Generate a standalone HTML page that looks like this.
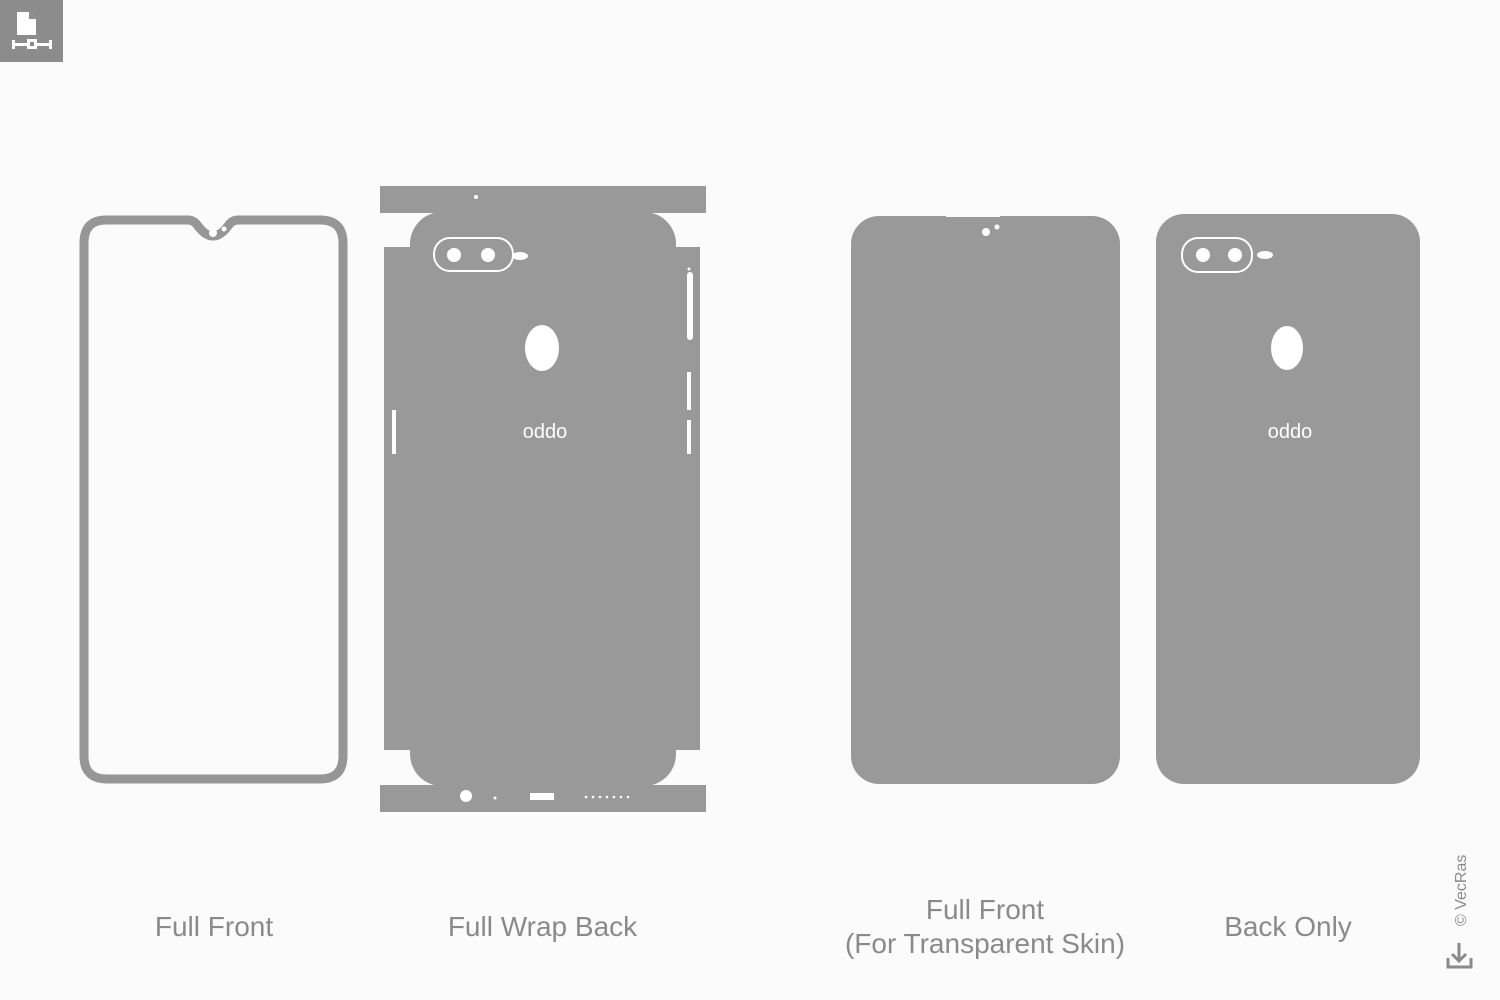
<!DOCTYPE html>
<html><head><meta charset="utf-8"><style>
html,body{margin:0;padding:0;background:#fbfbfb;}
body{width:1500px;height:1000px;overflow:hidden;position:relative;font-family:"Liberation Sans",sans-serif;}
.lbl{position:absolute;color:#8a8a8a;font-size:28px;text-align:center;line-height:34px;}
</style></head><body>
<svg width="1500" height="1000" style="position:absolute;left:0;top:0">
<rect x="0" y="0" width="63" height="62" fill="#8c8c8c"/>
<path d="M17 12 h12 l7 7 v16 h-19z" fill="#fff"/>
<path d="M29 12 v7 h7" fill="#8c8c8c"/>
<rect x="12" y="43" width="40" height="3" fill="#fff"/>
<rect x="27" y="39" width="10" height="10" fill="#fff"/><rect x="30" y="42" width="4" height="4" fill="#8c8c8c"/>
<rect x="12" y="40" width="3" height="9" fill="#fff"/><rect x="49" y="40" width="3" height="9" fill="#fff"/>

<!-- Full Front outline -->
<path d="M106 220 H188 Q194 220 198 226 Q213 246 228 226 Q232 220 238 220 H320 Q343 220 343 243 V756 Q343 779 320 779 H107 Q84 779 84 756 V243 Q84 220 106 220Z" fill="none" stroke="#969696" stroke-width="9"/>
<circle cx="213" cy="233" r="4" fill="#fff"/><circle cx="224" cy="229" r="2.5" fill="#fff"/>

<!-- Full Wrap Back -->
<g fill="#999">
<rect x="380" y="186" width="326" height="27"/>
<rect x="380" y="785" width="326" height="27"/>
<rect x="410" y="212" width="266" height="574" rx="32"/>
<rect x="384" y="247" width="316" height="503"/>
</g>
<circle cx="476" cy="197" r="2" fill="#fff"/>
<rect x="434" y="238" width="79" height="33" rx="16" fill="none" stroke="#fff" stroke-width="2"/>
<circle cx="454" cy="255" r="7" fill="#fff"/><circle cx="488" cy="255" r="7" fill="#fff"/>
<ellipse cx="520" cy="256" rx="8" ry="4" fill="#fff"/>
<ellipse cx="542" cy="348" rx="17" ry="23" fill="#fff"/>
<text x="545" y="441" font-size="20" fill="#fff" text-anchor="middle" transform="rotate(180 545 434)" font-family="Liberation Sans">oppo</text>
<rect x="687" y="272" width="6" height="68" rx="3" fill="#fff"/>
<circle cx="689" cy="269" r="1.5" fill="#fff"/>
<rect x="687" y="372" width="4" height="38" fill="#fff"/>
<rect x="687" y="420" width="4" height="34" fill="#fff"/>
<rect x="392" y="410" width="4" height="44" fill="#fff"/>
<circle cx="466" cy="796" r="6" fill="#fff"/>
<circle cx="495" cy="798" r="1.5" fill="#fff"/>
<rect x="530" y="793" width="24" height="7" fill="#fff"/>
<g fill="#fff"><circle cx="586" cy="797" r="1.3"/><circle cx="593" cy="797" r="1.3"/><circle cx="600" cy="797" r="1.3"/><circle cx="607" cy="797" r="1.3"/><circle cx="614" cy="797" r="1.3"/><circle cx="621" cy="797" r="1.3"/><circle cx="628" cy="797" r="1.3"/></g>

<!-- Full Front transparent -->
<rect x="851" y="216" width="269" height="568" rx="28" fill="#999"/>
<rect x="946" y="214" width="54" height="3" fill="#fbfbfb"/>
<circle cx="986" cy="232" r="4" fill="#fff"/><circle cx="997" cy="227" r="2.5" fill="#fff"/>

<!-- Back Only -->
<rect x="1156" y="214" width="264" height="570" rx="28" fill="#999"/>
<rect x="1182" y="238" width="70" height="34" rx="16" fill="none" stroke="#fff" stroke-width="2"/>
<circle cx="1203" cy="255" r="7" fill="#fff"/><circle cx="1235" cy="255" r="7" fill="#fff"/>
<ellipse cx="1265" cy="255" rx="8" ry="4" fill="#fff"/>
<ellipse cx="1287" cy="348" rx="16" ry="22" fill="#fff"/>
<text x="1290" y="441" font-size="20" fill="#fff" text-anchor="middle" transform="rotate(180 1290 434)" font-family="Liberation Sans">oppo</text>

<text x="1466" y="926" font-size="16" fill="#8a8a8a" transform="rotate(-90 1466 926)" font-family="Liberation Sans">© VecRas</text>
<path d="M1459 943 V961 M1452 954 L1459 961 L1466 954" fill="none" stroke="#8a8a8a" stroke-width="3"/>
<path d="M1448 958 V967 H1471 V958" fill="none" stroke="#8a8a8a" stroke-width="3"/>
</svg>
<div class="lbl" style="left:104px;top:910px;width:220px">Full Front</div>
<div class="lbl" style="left:410px;top:910px;width:265px">Full Wrap Back</div>
<div class="lbl" style="left:810px;top:893px;width:350px">Full Front<br>(For Transparent Skin)</div>
<div class="lbl" style="left:1180px;top:910px;width:216px">Back Only</div>
</body></html>
